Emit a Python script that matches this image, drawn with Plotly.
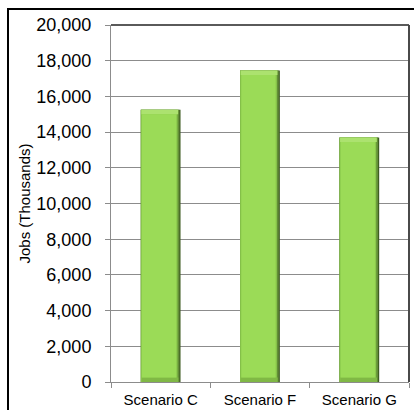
import plotly.graph_objects as go

# Jobs by scenario (thousands)
scenarios = ["Scenario C", "Scenario F", "Scenario G"]
jobs = [15250, 17450, 13700]
y_ticks = [0, 2000, 4000, 6000, 8000, 10000, 12000, 14000, 16000, 18000, 20000]

BEVEL = 250  # height of the top/bottom bevel bands, in data units
W = 0.40     # bar width in category units

fig = go.Figure()

def layer(y, base, width, offset, color):
    fig.add_trace(go.Bar(
        x=scenarios, y=y, base=base, width=width, offset=offset,
        marker=dict(color=color, line=dict(width=0)),
        hoverinfo="skip", showlegend=False,
    ))

# dark right-hand edge of each bar
layer(jobs, [0] * 3, W, -W / 2, "#3f5c24")
layer(jobs, [0] * 3, W - 0.012, -W / 2, "#638f36")
# lighter left edge
layer(jobs, [0] * 3, W - 0.03, -W / 2, "#8ac84c")
# bottom bevel (slightly darker)
layer([BEVEL] * 3, [0] * 3, W - 0.03, -W / 2 + 0.008, "#80b845")
# top bevel (highlight)
layer([BEVEL] * 3, [v - BEVEL for v in jobs], W - 0.03, -W / 2 + 0.006, "#ace26f")
# main face
layer([v - 2 * BEVEL for v in jobs], [BEVEL] * 3, W - 0.055, -W / 2 + 0.012, "#9bdb57")

grid = "#8c8c8c"
fig.update_layout(
    width=414, height=410,
    margin=dict(l=111, r=5, t=25, b=28),
    paper_bgcolor="white", plot_bgcolor="white",
    barmode="overlay",
    font=dict(family="Liberation Sans, Arial, sans-serif", color="black"),
    xaxis=dict(
        type="category", tickson="boundaries", ticks="outside", ticklen=5,
        tickcolor=grid, showline=True, linecolor=grid, linewidth=1,
        showgrid=False, tickfont=dict(size=15), ticklabelstandoff=4,
        automargin=False,
    ),
    yaxis=dict(
        range=[0, 20000], tickvals=y_ticks, tickformat=",d",
        ticks="outside", ticklen=5, tickcolor=grid,
        showline=True, linecolor=grid, linewidth=1,
        showgrid=True, gridcolor=grid, gridwidth=1,
        zeroline=False, tickfont=dict(size=18), ticklabelstandoff=10,
        title=dict(text="Jobs (Thousands)", font=dict(size=15), standoff=2),
        automargin=False,
    ),
    shapes=[
        # outer chart border
        dict(type="rect", xref="paper", yref="paper",
             x0=(8 - 111) / 298, x1=1.2, y0=-0.3, y1=1 + 16 / 357,
             line=dict(color="black", width=2), layer="above"),
        # plot-area top and right edges
        dict(type="line", xref="paper", yref="paper", x0=0, x1=1, y0=1, y1=1,
             line=dict(color="#5a5a5a", width=2)),
        dict(type="line", xref="paper", yref="paper", x0=1, x1=1, y0=0, y1=1,
             line=dict(color="#4a4a4a", width=2)),
    ],
)

fig.write_html("out.html")
